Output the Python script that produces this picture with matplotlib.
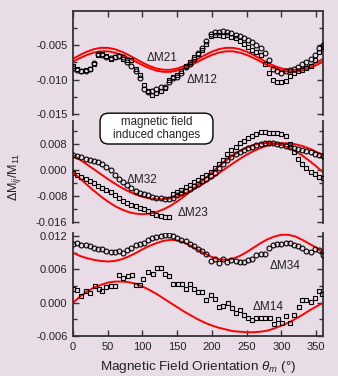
import matplotlib
matplotlib.use('Agg')
from matplotlib import pyplot as plt
from matplotlib.patches import FancyBboxPatch
from matplotlib.ticker import MultipleLocator, FormatStrFormatter

plt.rcParams['font.family'] = ['Liberation Sans', 'DejaVu Sans']
plt.rcParams['mathtext.fontset'] = 'custom'
plt.rcParams['mathtext.rm'] = 'Liberation Sans'
plt.rcParams['mathtext.it'] = 'Liberation Sans:italic'

BG = '#e8dce6'

# fitted curves, every 10 degrees
fit_theta = list(range(0, 361, 10))
fit_m21 = [-0.0070, -0.00645, -0.00597, -0.00561, -0.00542, -0.00542, -0.00561, -0.00597, -0.00645, -0.0070,
           -0.00755, -0.00803, -0.00839, -0.00858, -0.00858, -0.00839, -0.00803, -0.00755, -0.0070,
           -0.00645, -0.00597, -0.00561, -0.00542, -0.00542, -0.00561, -0.00597, -0.00645, -0.0070,
           -0.00755, -0.00803, -0.00839, -0.00858, -0.00858, -0.00839, -0.00803, -0.00755, -0.0070]
fit_m12 = [-0.0074, -0.00689, -0.00644, -0.0061, -0.00592, -0.00592, -0.0061, -0.00644, -0.00689, -0.0074,
           -0.00791, -0.00836, -0.0087, -0.00888, -0.00888, -0.0087, -0.00836, -0.00791, -0.0074,
           -0.00689, -0.00644, -0.0061, -0.00592, -0.00592, -0.0061, -0.00644, -0.00689, -0.0074,
           -0.00791, -0.00836, -0.0087, -0.00888, -0.00888, -0.0087, -0.00836, -0.00791, -0.0074]
fit_m32 = [0.00449, 0.00317, 0.00174, 0.00025, -0.00125, -0.00274, -0.00414, -0.00543, -0.00657, -0.00752,
           -0.00825, -0.00874, -0.00898, -0.00895, -0.00866, -0.00813, -0.00735, -0.00636, -0.00519,
           -0.00387, -0.00244, -0.00095, 0.00055, 0.00204, 0.00344, 0.00474, 0.00587, 0.00682, 0.00756,
           0.00804, 0.00828, 0.00825, 0.00796, 0.00743, 0.00665, 0.00566, 0.00449]
fit_m23 = [-0.00069, -0.0026, -0.00451, -0.00636, -0.0081, -0.00967, -0.01103, -0.01213, -0.01294, -0.01343,
           -0.0136, -0.01343, -0.01294, -0.01213, -0.01103, -0.00967, -0.0081, -0.00636, -0.00451,
           -0.0026, -0.00069, 0.00116, 0.0029, 0.00447, 0.00583, 0.00693, 0.00774, 0.00823, 0.0084,
           0.00823, 0.00774, 0.00693, 0.00583, 0.00447, 0.0029, 0.00116, -0.00069]
fit_m34 = [0.0090, 0.0084, 0.0080, 0.0077, 0.0075, 0.0074, 0.0075, 0.0078, 0.0083, 0.0089,
           0.0096, 0.0102, 0.0107, 0.0111, 0.0113, 0.0112, 0.0108, 0.0102, 0.0095,
           0.0088, 0.0082, 0.0078, 0.0077, 0.0079, 0.0084, 0.0091, 0.0099, 0.0107, 0.0114,
           0.0119, 0.0122, 0.0122, 0.0119, 0.0113, 0.0106, 0.0099, 0.0090]
fit_m14 = [0.0000, 0.0011, 0.0020, 0.0027, 0.0032, 0.0036, 0.0038, 0.0038, 0.0037, 0.0034,
           0.0029, 0.0023, 0.0016, 0.0008, 0.0000, -0.0008, -0.0016, -0.0023, -0.0030,
           -0.0036, -0.0041, -0.0045, -0.0048, -0.0051, -0.0052, -0.0053, -0.0053, -0.0052, -0.0050,
           -0.0046, -0.0041, -0.0036, -0.0029, -0.0022, -0.0014, -0.0007, 0.0000]

# measured points
theta6 = list(range(0, 361, 6))
pts_m21 = [-0.0083, -0.0086, -0.0088, -0.0087, -0.0085, -0.0076, -0.0063, -0.0065, -0.0068, -0.0069,
           -0.0067, -0.0066, -0.0068, -0.0075, -0.0080, -0.0088, -0.0098, -0.0113, -0.0118, -0.0116,
           -0.0113, -0.0111, -0.0110, -0.0104, -0.0098, -0.0096, -0.0090, -0.0082, -0.0077, -0.0070,
           -0.0062, -0.0054, -0.0045, -0.0034, -0.0032, -0.0031, -0.0030, -0.0032, -0.0033, -0.0035,
           -0.0037, -0.0040, -0.0043, -0.0046, -0.0050, -0.0054, -0.0062, -0.0072, -0.0084, -0.0087,
           -0.0090, -0.0088, -0.0086, -0.0084, -0.0082, -0.0078, -0.0075, -0.0070, -0.0064, -0.0055, -0.0050]
pts_m12 = [-0.0080, -0.0084, -0.0087, -0.0086, -0.0084, -0.0078, -0.0065, -0.0063, -0.0066, -0.0070,
           -0.0068, -0.0066, -0.0070, -0.0071, -0.0072, -0.0085, -0.0094, -0.0108, -0.0117, -0.0122,
           -0.0119, -0.0116, -0.0112, -0.0100, -0.0096, -0.0094, -0.0088, -0.0080, -0.0074, -0.0068,
           -0.0063, -0.0058, -0.0048, -0.0037, -0.0036, -0.0035, -0.0037, -0.0036, -0.0039, -0.0040,
           -0.0045, -0.0048, -0.0053, -0.0057, -0.0060, -0.0065, -0.0078, -0.0090, -0.0100, -0.0103,
           -0.0103, -0.0102, -0.0095, -0.0090, -0.0088, -0.0086, -0.0083, -0.0080, -0.0072, -0.0060, -0.0053]
pts_m32 = [0.0046, 0.0042, 0.0039, 0.0035, 0.0032, 0.0029, 0.0026, 0.0020, 0.0010, 0.0000,
           -0.0015, -0.0028, -0.0038, -0.0046, -0.0055, -0.0064, -0.0070, -0.0075, -0.0078, -0.0082,
           -0.0085, -0.0086, -0.0088, -0.0090, -0.0085, -0.0078, -0.0072, -0.0065, -0.0058, -0.0050,
           -0.0043, -0.0035, -0.0027, -0.0018, -0.0008, 0.0005, 0.0018, 0.0030, 0.0040, 0.0048,
           0.0055, 0.0062, 0.0068, 0.0072, 0.0076, 0.0079, 0.0082, 0.0083, 0.0082, 0.0080,
           0.0078, 0.0075, 0.0072, 0.0069, 0.0066, 0.0062, 0.0058, 0.0055, 0.0051, 0.0046, 0.0042]
pts_m23 = [-0.0009, -0.0015, -0.0022, -0.0028, -0.0035, -0.0041, -0.0048, -0.0055, -0.0062, -0.0069,
           -0.0077, -0.0086, -0.0094, -0.0102, -0.0108, -0.0112, -0.0116, -0.0121, -0.0127, -0.0133,
           -0.0138, -0.0142, -0.0145, -0.0146, -0.0075, -0.0068, -0.0060, -0.0053, -0.0045, -0.0038,
           -0.0030, -0.0022, -0.0014, -0.0005, 0.0005, 0.0018, 0.0032, 0.0048, 0.0062, 0.0072,
           0.0082, 0.0090, 0.0098, 0.0106, 0.0112, 0.0116, 0.0118, 0.0115, 0.0114, 0.0113,
           0.0110, 0.0106, 0.0080, 0.0056, 0.0035, 0.0018, 0.0005, -0.0005, -0.0012, -0.0020, -0.0025]
pts_m34 = [0.0106, 0.0108, 0.0104, 0.0103, 0.0101, 0.0099, 0.0097, 0.0096, 0.0093, 0.0091,
           0.0091, 0.0092, 0.0090, 0.0094, 0.0099, 0.0103, 0.0105, 0.0108, 0.0112, 0.0116,
           0.0118, 0.0120, 0.0121, 0.0121, 0.0119, 0.0116, 0.0113, 0.0110, 0.0106, 0.0102,
           0.0096, 0.0092, 0.0087, 0.0075, 0.0078, 0.0071, 0.0078, 0.0074, 0.0076, 0.0075,
           0.0074, 0.0073, 0.0077, 0.0079, 0.0085, 0.0087, 0.0088, 0.0098, 0.0104, 0.0106,
           0.0105, 0.0107, 0.0108, 0.0104, 0.0101, 0.0098, 0.0093, 0.0091, 0.0096, 0.0094, 0.0086]
theta_m14 = [0, 6, 12, 19, 25, 31, 37, 42, 48, 55, 61, 66, 72, 79, 85, 90, 96, 101, 108, 115,
             121, 127, 132, 138, 144, 151, 157, 163, 169, 174, 180, 186, 192, 198, 204, 210, 216,
             223, 229, 234, 240, 246, 252, 258, 264, 270, 277, 283, 289, 295, 301, 307, 313, 318,
             325, 330, 336, 342, 348, 354, 359]
pts_m14 = [0.0024, 0.0022, 0.0012, 0.0021, 0.0018, 0.0030, 0.0024, 0.0021, 0.0028, 0.0030,
           0.0030, 0.0049, 0.0045, 0.0048, 0.0049, 0.0031, 0.0031, 0.0042, 0.0055, 0.0051,
           0.0063, 0.0063, 0.0051, 0.0048, 0.0033, 0.0033, 0.0033, 0.0025, 0.0033, 0.0025,
           0.0019, 0.0020, 0.0005, 0.0013, 0.0007, -0.0007, -0.0006, -0.0001, -0.0010, -0.0019,
           -0.0013, -0.0022, -0.0028, -0.0031, -0.0028, -0.0028, -0.0028, -0.0028, -0.0038, -0.0030,
           -0.0037, -0.0023, -0.0036, -0.0022, -0.0007, 0.0005, 0.0005, 0.0002, 0.0009, 0.0021, 0.0015]

fig = plt.figure(figsize=(3.38, 3.76), dpi=100, facecolor=BG)

left, width = 0.216, 0.740
ax_top = fig.add_axes([left, 0.694, width, 0.277])
ax_mid = fig.add_axes([left, 0.407, width, 0.271])
ax_bot = fig.add_axes([left, 0.106, width, 0.274])

red = dict(color='#ff0000', lw=1.4, zorder=2)
circ = dict(ls='none', marker='o', ms=3.5, mfc='none', mec='black', mew=0.8, zorder=3)
sq = dict(ls='none', marker='s', ms=3.3, mfc='none', mec='black', mew=0.8, zorder=3)

ax_top.plot(fit_theta, fit_m21, **red)
ax_top.plot(fit_theta, fit_m12, **red)
ax_top.plot(theta6, pts_m21, **circ)
ax_top.plot(theta6, pts_m12, **sq)

ax_mid.plot(fit_theta, fit_m32, **red)
ax_mid.plot(fit_theta, fit_m23, **red)
ax_mid.plot(theta6, pts_m32, **circ)
ax_mid.plot(theta6, pts_m23, **sq)

ax_bot.plot(fit_theta, fit_m34, **red)
ax_bot.plot(fit_theta, fit_m14, **red)
ax_bot.plot(theta6, pts_m34, **circ)
ax_bot.plot(theta_m14, pts_m14, **sq)

ax_top.set_ylim(-0.0151, -0.0001)
ax_mid.set_ylim(-0.0163, 0.0151)
ax_bot.set_ylim(-0.006, 0.0125)

for ax, major, minor in [(ax_top, 0.005, 0.0025), (ax_mid, 0.008, 0.004), (ax_bot, 0.006, 0.003)]:
    ax.set_facecolor('none')
    ax.set_xlim(0, 360)
    ax.xaxis.set_major_locator(MultipleLocator(50))
    ax.yaxis.set_major_locator(MultipleLocator(major))
    ax.yaxis.set_minor_locator(MultipleLocator(minor))
    ax.yaxis.set_major_formatter(FormatStrFormatter('%.3f'))
    ax.tick_params(axis='both', which='both', direction='in', colors='#333333',
                   labelcolor='#222222', labelsize=8, width=1.0, pad=4)
    ax.tick_params(which='major', length=4.5)
    ax.tick_params(which='minor', length=3)
    ax.tick_params(axis='y', which='both', left=True, right=True)
    for s in ax.spines.values():
        s.set_color('#333333')
        s.set_linewidth(1.3)
    ax.spines['top'].set_visible(False)
    ax.spines['bottom'].set_visible(False)
    ax.tick_params(axis='x', top=False, bottom=False, labelbottom=False)

ax_top.spines['top'].set_visible(True)
ax_top.tick_params(axis='x', top=True)
ax_bot.spines['bottom'].set_visible(True)
ax_bot.tick_params(axis='x', bottom=True, labelbottom=True)
ax_bot.set_xlabel(r'Magnetic Field Orientation $\theta_m$ (°)', fontsize=9.7, color='#222222', labelpad=5)

fig.text(0.042, 0.530, r'$\Delta$M$_{ij}$/M$_{11}$', rotation=90, ha='center', va='center',
         fontsize=9, color='#222222')

lab = dict(fontsize=8.5, color='#222222', ha='left', va='center')
ax_top.text(106, -0.0069, '\u0394M21', **lab)
ax_top.text(164, -0.0101, '\u0394M12', **lab)
ax_mid.text(77, -0.0031, '\u0394M32', **lab)
ax_mid.text(150, -0.0132, '\u0394M23', **lab)
ax_bot.text(283, 0.0066, '\u0394M34', **lab)
ax_bot.text(259, -0.0008, '\u0394M14', **lab)

# rounded note box
box = FancyBboxPatch((0.296, 0.617), 0.334, 0.082, transform=fig.transFigure,
                     boxstyle='round,pad=0,rounding_size=0.025', fc='white', ec='black', lw=1.0,
                     zorder=10, mutation_aspect=338 / 376)
fig.patches.append(box)
fig.text(0.463, 0.658, 'magnetic field\ninduced changes', ha='center', va='center', fontsize=8.3,
         color='#222222', linespacing=1.2, zorder=11)

fig.savefig('out.png', dpi=100, facecolor=BG)
